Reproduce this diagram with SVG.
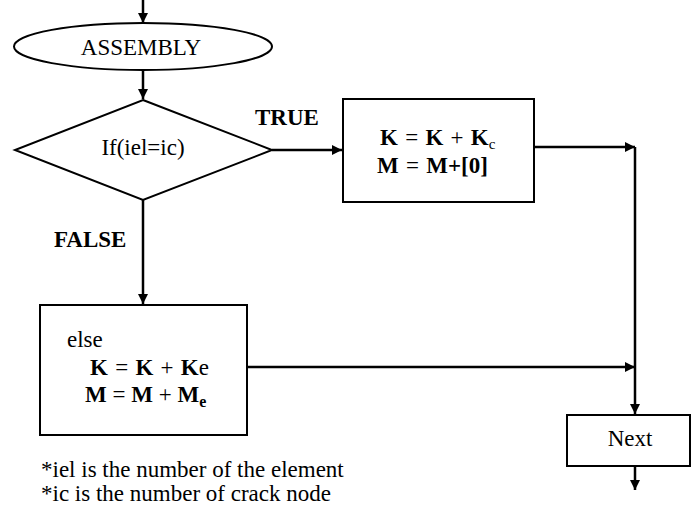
<svg xmlns="http://www.w3.org/2000/svg" width="691" height="515" viewBox="0 0 691 515">
<defs>
<marker id="ah" viewBox="0 0 10 10" refX="10" refY="5" markerWidth="10" markerHeight="10" markerUnits="userSpaceOnUse" orient="auto">
<path d="M0,0 L10,5 L0,10 z" fill="#000"/>
</marker>
<style>
.shape{fill:#fff;stroke:#000;stroke-width:2}
.ln{fill:none;stroke:#000;stroke-width:2.5}
.t{font-family:"Liberation Serif","Times New Roman",serif;font-size:23px;fill:#000}
.b{font-weight:bold}
.m{word-spacing:1.5px}
</style>
</defs>
<rect width="691" height="515" fill="#fff"/>
<g id="connectors">
<line class="ln" x1="143" y1="0" x2="143" y2="23" marker-end="url(#ah)"/>
<line class="ln" x1="143" y1="70" x2="143" y2="99" marker-end="url(#ah)"/>
<line class="ln" x1="272" y1="150" x2="342" y2="150" marker-end="url(#ah)"/>
<line class="ln" x1="143" y1="200" x2="143" y2="304" marker-end="url(#ah)"/>
<line class="ln" x1="534" y1="147" x2="635" y2="147" marker-end="url(#ah)"/>
<line class="ln" x1="247" y1="367" x2="635" y2="367" marker-end="url(#ah)"/>
<line class="ln" x1="635" y1="147" x2="635" y2="414" marker-end="url(#ah)"/>
<line class="ln" x1="635" y1="466" x2="635" y2="490" marker-end="url(#ah)"/>
</g>
<g id="assembly">
<ellipse class="shape" cx="143" cy="46.5" rx="129" ry="23.5"/>
<text class="t" x="141" y="55" text-anchor="middle">ASSEMBLY</text>
</g>
<g id="decision">
<polygon class="shape" points="143,100 272,150 143,200 15,150"/>
<text class="t" x="143" y="155" text-anchor="middle">If(iel=ic)</text>
</g>
<g id="labels">
<text class="t b" x="255" y="125">TRUE</text>
<text class="t b" x="54" y="247">FALSE</text>
</g>
<g id="true-box">
<rect class="shape" x="343" y="99" width="191" height="103"/>
<text class="t m" x="380" y="145"><tspan class="b">K</tspan> = <tspan class="b">K</tspan> + <tspan class="b">K</tspan><tspan font-size="15" dy="4">c</tspan></text>
<text class="t m" x="377" y="173"><tspan class="b">M</tspan> = <tspan class="b">M+[0]</tspan></text>
</g>
<g id="else-box">
<rect class="shape" x="40" y="305" width="207" height="130"/>
<text class="t" x="67" y="347">else</text>
<text class="t m" x="90" y="375"><tspan class="b">K</tspan> = <tspan class="b">K</tspan> + <tspan class="b">K</tspan>e</text>
<text class="t" x="85" y="402"><tspan class="b">M</tspan> = <tspan class="b">M</tspan> + <tspan class="b">M</tspan><tspan class="b" font-size="16" dy="5">e</tspan></text>
</g>
<g id="next">
<rect class="shape" x="567" y="415" width="123" height="51"/>
<text class="t" x="630" y="446" text-anchor="middle">Next</text>
</g>
<g id="notes">
<text class="t" x="41" y="477">*iel is the number of the element</text>
<text class="t" x="41" y="501">*ic is the number of crack node</text>
</g>
</svg>
